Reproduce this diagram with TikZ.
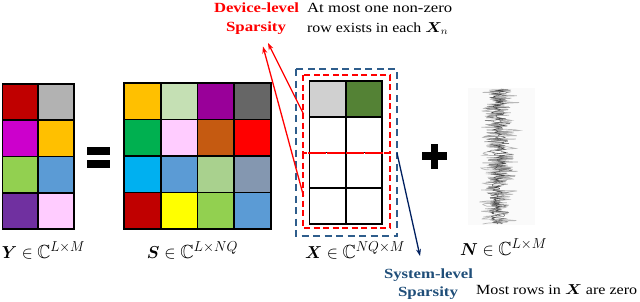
\documentclass[tikz,border=0pt]{standalone}
\usepackage{amsmath,amssymb,bm}
\usepackage{fontspec}
\setmainfont{Liberation Serif}
\usetikzlibrary{arrows.meta}
\definecolor{cdred}{RGB}{192,0,0}
\definecolor{cgrey}{RGB}{178,178,178}
\definecolor{cmag}{RGB}{204,0,204}
\definecolor{corange}{RGB}{255,192,0}
\definecolor{clgreen}{RGB}{146,208,80}
\definecolor{cblue}{RGB}{91,155,213}
\definecolor{cpurple}{RGB}{112,48,160}
\definecolor{cpink}{RGB}{255,204,255}
\definecolor{cpalegreen}{RGB}{197,224,180}
\definecolor{cplum}{RGB}{153,0,153}
\definecolor{cdgrey}{RGB}{102,102,102}
\definecolor{cgreen}{RGB}{0,176,80}
\definecolor{cbrown}{RGB}{197,90,17}
\definecolor{cred}{RGB}{255,0,0}
\definecolor{ccyan}{RGB}{0,176,240}
\definecolor{csage}{RGB}{169,209,142}
\definecolor{cslate}{RGB}{132,151,176}
\definecolor{cyellow}{RGB}{255,255,0}
\definecolor{cxgrey}{RGB}{208,208,208}
\definecolor{cxgreen}{RGB}{84,130,53}
\definecolor{sysblue}{RGB}{31,78,121}
\definecolor{boxblue}{RGB}{46,93,140}
\definecolor{navy}{RGB}{0,32,96}
\newcommand{\wto}[2]{\resizebox{#1pt}{\height}{#2}}
\begin{document}
\begin{tikzpicture}[x=1pt,y=-1pt,
  cellline/.style={draw=black,line width=1.8pt},
  lbl/.style={font=\fontsize{19}{21}\selectfont,anchor=base,inner sep=0pt},
  txt/.style={font=\fontsize{14}{16}\selectfont,inner sep=0pt},
  redtxt/.style={txt,font=\fontsize{14}{16}\selectfont\bfseries,text=cred,anchor=base},
  bluetxt/.style={txt,font=\fontsize{14}{16}\selectfont\bfseries,text=sysblue,anchor=base},
  reddash/.style={draw=cred,line width=2pt,dash pattern=on 6pt off 3.5pt},
  bluedash/.style={draw=boxblue,line width=1.8pt,dash pattern=on 7pt off 4.5pt},
  redarrow/.style={draw=cred,line width=1.3pt,-{Stealth[length=7pt,width=5pt]}},
  bluearrow/.style={draw=navy,line width=1.3pt,-{Stealth[length=7pt,width=5pt]}},
  opbar/.style={fill=black}]
\useasboundingbox (0,0) rectangle (640,301);
% Y matrix
\foreach \r/\k/\c in {0/0/cdred,0/1/cgrey,1/0/cmag,1/1/corange,2/0/clgreen,2/1/cblue,3/0/cpurple,3/1/cpink}
  \draw[cellline,fill=\c] ({2.5+\k*35.75},{84+\r*36.25}) rectangle ++(35.75,36.25);
% equals
\fill[opbar] (87,147) rectangle (110,155);
\fill[opbar] (87,159.5) rectangle (110,168);
% S matrix
\foreach \r/\k/\c in {0/0/corange,0/1/cpalegreen,0/2/cplum,0/3/cdgrey,
  1/0/cgreen,1/1/cpink,1/2/cbrown,1/3/cred,
  2/0/ccyan,2/1/cblue,2/2/csage,2/3/cslate,
  3/0/cdred,3/1/cyellow,3/2/clgreen,3/3/cblue}
  \draw[cellline,fill=\c] ({124+\k*36.75},{83+\r*36.5}) rectangle ++(36.75,36.5);
% X matrix
\foreach \r/\k/\c in {0/0/cxgrey,0/1/cxgreen,1/0/white,1/1/white,2/0/white,2/1/white,3/0/white,3/1/white}
  \draw[cellline,fill=\c] ({309.5+\k*36.25},{81+\r*35.75}) rectangle ++(36.25,35.75);
% dashed boxes
\draw[bluedash] (296,69) rectangle (397,236);
\draw[reddash] (303,75) rectangle (390,153);
\draw[reddash] (303,153) rectangle (390,228);
% plus
\fill[opbar] (422,152.3) rectangle (447,159.8);
\fill[opbar] (430.8,143.5) rectangle (438.3,168.5);
% noise
\fill[black!2] (468,88) rectangle (535,225);
\pgfmathsetseed{11}
\draw[black!28,line width=0.7pt] plot[domain=89:224,samples=160,variable=\t]
  ({499+19*rand+8*rand*rand*rand},\t);
\draw[black!50,line width=0.5pt] plot[domain=89.4:224,samples=200,variable=\t]
  ({499+13*rand+6*rand*rand*rand+2*sin(\t*5)},\t);
\draw[black!75,line width=0.35pt] plot[domain=89.7:224,samples=170,variable=\t]
  ({499+7*rand+2*sin(\t*3)},\t);
% texts
\node[redtxt] (dev1) at (256.5,12) {\wto{85}{Device-level}};
\node[redtxt] (dev2) at (256,31.5) {\wto{60}{Sparsity}};
\node[txt,anchor=base west] (am1) at (307,12) {\wto{145}{At most one non-zero}};
\node[txt,anchor=base west] (am2) at (307,32) {\wto{141}{row exists in each $\bm{X}_n$}};
\node[bluetxt] (sys1) at (428.5,278) {\wto{89}{System-level}};
\node[bluetxt] (sys2) at (428,296) {\wto{60}{Sparsity}};
\node[txt,anchor=base west] (most) at (476,294) {\wto{161}{Most rows in $\bm{X}$ are zero}};
\node[lbl] (ylab) at (43.5,258) {\wto{83}{$\bm{Y}\in\mathbb{C}^{L\times M}$}};
\node[lbl] (slab) at (192.5,258) {\wto{91}{$\bm{S}\in\mathbb{C}^{L\times NQ}$}};
\node[lbl] (xlab) at (355,258) {\wto{100}{$\bm{X}\in\mathbb{C}^{NQ\times M}$}};
\node[lbl] (nlab) at (503.5,255) {\wto{87}{$\bm{N}\in\mathbb{C}^{L\times M}$}};
% arrows
\coordinate (r1) at (303.5,114);
\coordinate (r2) at (303.5,196);
\coordinate (t1) at (268,43);
\coordinate (t2) at (263,46.5);
\coordinate (b1) at (397,153);
\coordinate (b2) at (420,256);
\draw[redarrow] (r1) -- (t1);
\draw[redarrow] (r2) -- (t2);
\draw[bluearrow] (b1) -- (b2);
\end{tikzpicture}
\end{document}
